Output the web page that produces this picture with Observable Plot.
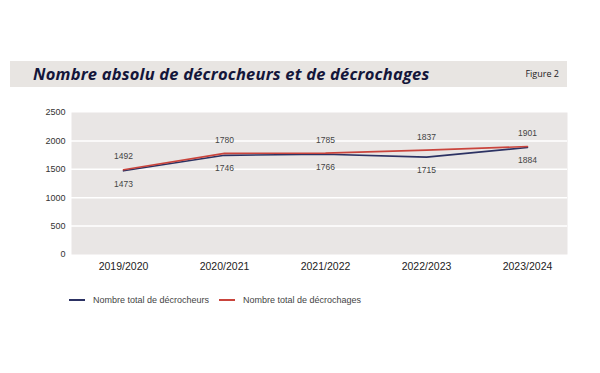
<!DOCTYPE html>
<html>
<head>
<meta charset="utf-8">
<script src="https://cdn.jsdelivr.net/npm/d3@7"></script>
<script src="https://cdn.jsdelivr.net/npm/@observablehq/plot@0.6"></script>
<style>
  html, body { margin: 0; padding: 0; background: #fff; }
  body { width: 600px; height: 373px; position: relative; font-family: "Liberation Sans", Arial, sans-serif; }
  #band { position: absolute; left: 10px; top: 61px; width: 557px; height: 26px; background: #e8e5e2; }
  #title { position: absolute; left: 23px; top: 2px; font-family: "Open Sans", sans-serif; font-style: italic; font-weight: 700; font-size: 16.5px; color: #14163a; line-height: 22px; letter-spacing: 0.2px; }
  #fig { position: absolute; right: 8px; top: 6px; font-family: "Open Sans", sans-serif; font-size: 9px; color: #222; }
  #chart { position: absolute; left: 0; top: 100px; }
  #legend { position: absolute; left: 0; top: 293px; width: 600px; font-size: 9px; color: #444; }
  .li { position: absolute; top: 0; display: flex; align-items: center; height: 14px; }
  .sw { display: inline-block; width: 16px; height: 1.5px; margin-right: 8px; }
</style>
</head>
<body>
<div id="band"><div id="title">Nombre absolu de décrocheurs et de décrochages</div><div id="fig">Figure 2</div></div>
<div id="chart"></div>
<div id="legend"></div>
<script>
const years = ["2019/2020", "2020/2021", "2021/2022", "2022/2023", "2023/2024"];
const decrocheurs = [1473, 1746, 1766, 1715, 1884];
const decrochages = [1492, 1780, 1785, 1837, 1901];
const seriesNames = ["Nombre total de décrocheurs", "Nombre total de décrochages"];
const seriesColors = ["#2c3263", "#c9443c"];
const yTicks = [0, 500, 1000, 1500, 2000, 2500];

const rows = [];
years.forEach((y, i) => {
  rows.push({year: y, value: decrocheurs[i], series: seriesNames[0]});
  rows.push({year: y, value: decrochages[i], series: seriesNames[1]});
});
const blue = rows.filter(d => d.series === seriesNames[0]);
const red = rows.filter(d => d.series === seriesNames[1]);

const chart = Plot.plot({
  width: 600,
  height: 180,
  marginLeft: 71,
  marginRight: 33,
  marginTop: 12,
  marginBottom: 26,
  style: {fontFamily: "Liberation Sans, Arial, sans-serif", background: "transparent"},
  x: {type: "point", domain: years, padding: 0, insetLeft: 51, insetRight: 39, label: null},
  y: {domain: [0, 2500], ticks: yTicks, label: null},
  color: {domain: seriesNames, range: seriesColors},
  marks: [
    Plot.frame({fill: "#e9e6e5", stroke: null}),
    Plot.gridY(yTicks.filter(t => t > 0 && t < 2500), {stroke: "#fff", strokeOpacity: 1, strokeWidth: 1.5}),
    Plot.axisY({ticks: yTicks, tickFormat: d => String(d), tickSize: 0, tickPadding: 6, fontSize: 9, fill: "#333"}),
    Plot.axisX({tickSize: 0, tickPadding: 8, fontSize: 10.5, fill: "#222"}),
    Plot.line(blue, {x: "year", y: "value", stroke: "series", strokeWidth: 1.6}),
    Plot.line(red, {x: "year", y: "value", stroke: "series", strokeWidth: 1.6}),
    Plot.text(red, {x: "year", y: "value", text: d => String(d.value), dy: -13, fontSize: 8.5, fill: "#444"}),
    Plot.text(blue, {x: "year", y: "value", text: d => String(d.value), dy: 13, fontSize: 8.5, fill: "#444"})
  ]
});
document.getElementById("chart").appendChild(chart);

const legend = document.getElementById("legend");
const lx = [69, 219];
seriesNames.forEach((n, i) => {
  const d = document.createElement("div");
  d.className = "li";
  d.style.left = lx[i] + "px";
  d.innerHTML = `<span class="sw" style="background:${seriesColors[i]}"></span><span>${n}</span>`;
  legend.appendChild(d);
});
</script>
</body>
</html>
